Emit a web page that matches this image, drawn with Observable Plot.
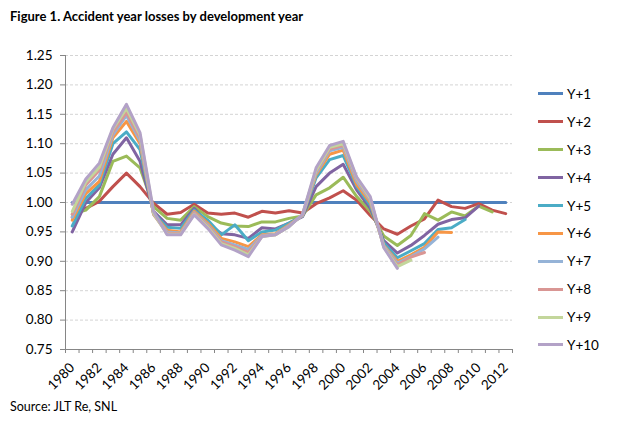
<!DOCTYPE html>
<html><head><meta charset="utf-8">
<script src="https://cdn.jsdelivr.net/npm/d3@7"></script>
<script src="https://cdn.jsdelivr.net/npm/@observablehq/plot@0.6"></script>
<style>
body{margin:0;background:#fff;font-family:Lato,"Open Sans",sans-serif;color:#000;}
#wrap{position:relative;width:620px;height:427px;overflow:hidden;}
#title{position:absolute;left:10px;top:8px;font-weight:bold;font-size:13px;white-space:nowrap;}
#chart{position:absolute;left:0;top:34px;}
#source{position:absolute;left:10px;top:399px;font-size:12.5px;white-space:nowrap;}
#legend{position:absolute;left:538px;top:80px;}
.row{display:flex;align-items:center;height:27.9px;font-size:13.5px;}
.sw{width:25px;height:3px;margin-right:4px;}
</style></head><body>
<div id="wrap">
<div id="title">Figure 1. Accident year losses by development year</div>
<div id="chart"></div>
<div id="legend"></div>
<div id="source">Source: JLT Re, SNL</div>
</div>
<script>
const years = [1980,1981,1982,1983,1984,1985,1986,1987,1988,1989,1990,1991,1992,1993,1994,1995,1996,1997,1998,1999,2000,2001,2002,2003,2004,2005,2006,2007,2008,2009,2010,2011,2012];
const seriesNames = ["Y+1","Y+2","Y+3","Y+4","Y+5","Y+6","Y+7","Y+8","Y+9","Y+10"];
const seriesColors = ["#4F81BD","#C0504D","#9BBB59","#8064A2","#4BACC6","#F79646","#95B3D7","#D99694","#C3D69B","#B3A2C7"];
const yTickLabels = [0.75,0.80,0.85,0.90,0.95,1.00,1.05,1.10,1.15,1.20,1.25];
const xTickLabels = [1980,1982,1984,1986,1988,1990,1992,1994,1996,1998,2000,2002,2004,2006,2008,2010,2012];

const y1 = [1,1,1,1,1,1,1,1,1,1,1,1,1,1,1,1,1,1,1,1,1,1,1,1,1,1,1,1,1,1,1,1,1];
const y2 = [0.975,0.990,1.002,1.027,1.050,1.027,0.999,0.980,0.983,0.997,0.982,0.980,0.982,0.975,0.985,0.982,0.986,0.982,0.998,1.008,1.020,1.004,0.978,0.955,0.946,0.960,0.972,1.004,0.993,0.990,0.998,0.987,0.981];
const y3 = [0.980,0.987,1.010,1.070,1.079,1.059,0.993,0.973,0.970,0.993,0.976,0.965,0.960,0.959,0.967,0.967,0.973,0.977,1.013,1.025,1.043,1.010,0.985,0.943,0.927,0.944,0.981,0.970,0.984,0.977,0.994,0.984];
const y4 = [0.950,1.000,1.025,1.082,1.110,1.070,0.985,0.962,0.962,0.990,0.965,0.947,0.945,0.939,0.957,0.955,0.965,0.976,1.027,1.050,1.065,1.021,0.990,0.935,0.914,0.927,0.944,0.963,0.971,0.974,0.994];
const y5 = [0.960,1.007,1.030,1.100,1.120,1.090,0.982,0.958,0.956,0.987,0.970,0.945,0.962,0.935,0.950,0.953,0.965,0.977,1.042,1.073,1.080,1.027,0.995,0.931,0.906,0.918,0.930,0.954,0.957,0.971];
const y6 = [0.970,1.015,1.036,1.110,1.138,1.100,0.981,0.953,0.950,0.985,0.965,0.939,0.933,0.925,0.945,0.947,0.962,0.978,1.047,1.082,1.089,1.030,1.000,0.927,0.900,0.911,0.924,0.950,0.949];
const y7 = [0.975,1.022,1.045,1.115,1.148,1.105,0.980,0.950,0.948,0.983,0.962,0.935,0.928,0.920,0.944,0.946,0.961,0.978,1.050,1.088,1.094,1.036,1.003,0.926,0.897,0.908,0.921,0.941];
const y8 = [0.980,1.030,1.055,1.120,1.153,1.110,0.980,0.948,0.947,0.982,0.960,0.933,0.925,0.915,0.943,0.945,0.960,0.979,1.053,1.091,1.097,1.040,1.005,0.925,0.894,0.907,0.915];
const y9 = [0.985,1.035,1.060,1.125,1.160,1.115,0.982,0.946,0.946,0.980,0.958,0.930,0.922,0.911,0.942,0.945,0.959,0.980,1.055,1.094,1.100,1.042,1.007,0.924,0.891,0.902];
const y10 = [0.997,1.040,1.067,1.127,1.167,1.119,0.985,0.945,0.945,0.979,0.956,0.928,0.919,0.908,0.942,0.945,0.959,0.980,1.059,1.097,1.104,1.043,1.010,0.923,0.888];

const allSeries = [y1,y2,y3,y4,y5,y6,y7,y8,y9,y10];
const data = [];
allSeries.forEach((vals, si) => vals.forEach((v, i) => data.push({series: seriesNames[si], year: years[i], value: v})));
const boundaries = years.map(y => y - 0.5).concat([years[years.length-1] + 0.5]);
const font = "Lato, 'Open Sans', sans-serif";

const chart = Plot.plot({
  width: 620, height: 361,
  marginTop: 21, marginBottom: 46, marginLeft: 65, marginRight: 108,
  x: {type: "linear", domain: [1979.5, 2012.5]},
  y: {domain: [0.75, 1.25]},
  color: {domain: seriesNames, range: seriesColors},
  style: {fontFamily: font, fontSize: "13px", color: "#000", background: "#fff"},
  marks: [
    Plot.gridY(yTickLabels.filter(t => t > 0.75), {stroke: "#d4d4d4", strokeOpacity: 1, strokeDasharray: "3,2"}),
    Plot.ruleX([1979.5], {stroke: "#868686"}),
    Plot.ruleY([0.75], {stroke: "#868686"}),
    Plot.axisY({ticks: yTickLabels, tickFormat: d => d.toFixed(2), tickSize: 5, tickPadding: 8, stroke: "#868686", fill: "#000", fontSize: 13.5, label: null}),
    Plot.axisX({ticks: boundaries, tickFormat: () => "", tickSize: 4, stroke: "#868686", label: null}),
    Plot.axisX({ticks: xTickLabels, tickFormat: d => String(d), tickSize: 0, tickRotate: -45, tickPadding: 16, dx: 0, fill: "#000", fontSize: 13.5, label: null}),
    Plot.line(data, {x: "year", y: "value", stroke: "series", z: "series", strokeWidth: 3, strokeLinejoin: "round"})
  ]
});
document.getElementById("chart").appendChild(chart);

const legend = document.getElementById("legend");
seriesNames.forEach((n, i) => {
  const row = document.createElement("div");
  row.className = "row";
  const sw = document.createElement("div");
  sw.className = "sw";
  sw.style.background = seriesColors[i];
  const t = document.createElement("span");
  t.textContent = n;
  row.appendChild(sw); row.appendChild(t);
  legend.appendChild(row);
});
</script>
</body></html>
